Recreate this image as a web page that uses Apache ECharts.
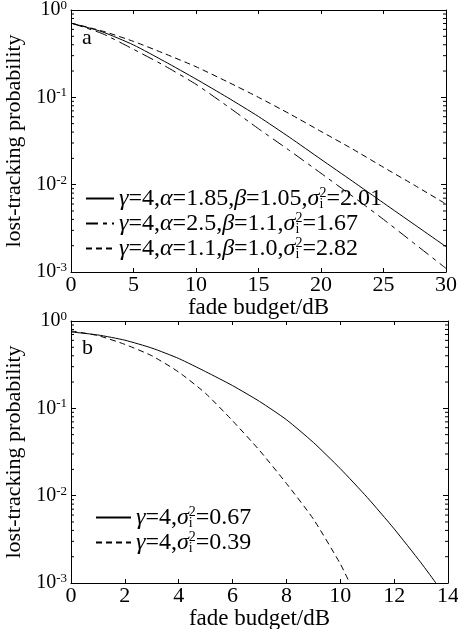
<!DOCTYPE html>
<html><head><meta charset="utf-8">
<script src="https://cdn.jsdelivr.net/npm/echarts@6/dist/echarts.min.js"></script>
<style>html,body{margin:0;padding:0;background:#fff}#c{width:458px;height:629px}</style>
</head><body><div id="c"></div>
<script>
// ---- data ----
const xTop = [0, 2.5, 5, 7.5, 10, 12.5, 15, 17.5, 20, 22.5, 25, 27.5, 30];
const pSolidA = [0.708, 0.562, 0.398, 0.257, 0.162, 0.100, 0.0603, 0.0347, 0.0195, 0.0110, 0.00617, 0.00347, 0.00195];
const pDashDotA = [0.708, 0.537, 0.355, 0.229, 0.141, 0.0794, 0.0437, 0.0245, 0.0135, 0.0074, 0.0040, 0.0021, 0.0011];
const pDashA = [0.708, 0.575, 0.437, 0.316, 0.224, 0.151, 0.100, 0.0646, 0.0407, 0.0257, 0.0158, 0.0098, 0.0060];

const xBotSolid = [0, 1, 2, 3, 4, 5, 6, 7, 8, 9, 10, 11, 12, 13, 13.55];
const pSolidB = [0.750, 0.692, 0.603, 0.490, 0.372, 0.263, 0.182, 0.120, 0.0741, 0.0407, 0.0204, 0.00955, 0.00417, 0.0017, 0.001];
const xBotDash = [0, 1, 2, 3, 4, 5, 6, 7, 8, 9, 10, 10.35];
const pDashB = [0.77, 0.68, 0.54, 0.40, 0.26, 0.148, 0.072, 0.033, 0.0138, 0.0054, 0.00166, 0.001];

const yDecades = [0.001, 0.01, 0.1, 1];
const legendA = ['γ=4,α=1.85,β=1.05,σi²=2.01', 'γ=4,α=2.5,β=1.1,σi²=1.67', 'γ=4,α=1.1,β=1.0,σi²=2.82'];
const legendB = ['γ=4,σi²=0.67', 'γ=4,σi²=0.39'];
const yName = 'lost-tracking probability';
const xName = 'fade budget/dB';

// minor tick values 2..9 x 10^n
const minorTicks = [];
for (let d = 0; d < yDecades.length - 1; d++) for (let k = 2; k <= 9; k++) minorTicks.push(+(k * yDecades[d]).toPrecision(3));

const FONT = '"Liberation Serif","DejaVu Serif",serif';
const LFS = 24;   // legend font
const pair = (xs, ys) => xs.map((x, i) => [x, ys[i]]);

function richLegend(name) {
  return name.replace(/γ/g, '{g|γ}').replace(/α/g, '{g|α}').replace(/β/g, '{g|β}')
             .replace(/σi²/g, '{g|σ}{sub|i}{sup|2}');
}
const legendRich = {
  g: { fontFamily: FONT, fontSize: LFS, fontStyle: 'italic', color: '#000', lineHeight: 25 },
  sub: { fontFamily: FONT, fontSize: 14, color: '#000', verticalAlign: 'bottom', padding: [8, 0, 0, 0], width: 0, lineHeight: 25 },
  sup: { fontFamily: FONT, fontSize: 14, color: '#000', verticalAlign: 'top', padding: [0, 0, 6, 0], lineHeight: 25 }
};
const yLabel = {
  fontFamily: FONT, fontSize: 20, color: '#000', margin: 4,
  formatter: v => '{b|10}{s|' + Math.round(Math.log10(v)) + '}',
  rich: {
    b: { fontFamily: FONT, fontSize: 20, color: '#000' },
    s: { fontFamily: FONT, fontSize: 13, color: '#000', verticalAlign: 'top', padding: [0, 0, 9, 0] }
  }
};
const axisLine = { show: true, onZero: false, lineStyle: { color: '#000', width: 1 } };

function xAx(gi, max, interval, pos, labels) {
  return {
    type: 'value', gridIndex: gi, min: 0, max: max, interval: interval, position: pos,
    axisLine: axisLine,
    axisTick: { show: true, inside: true, length: 4, lineStyle: { color: '#000' } },
    axisLabel: { show: labels, fontFamily: FONT, fontSize: 22, color: '#000', margin: 2 },
    splitLine: { show: false },
    name: labels ? xName : '', nameLocation: 'middle', nameGap: 21,
    nameTextStyle: { fontFamily: FONT, fontSize: 23, color: '#000' }
  };
}
function yAx(gi, pos, labels) {
  return {
    type: 'log', logBase: 10, gridIndex: gi, min: 0.001, max: 1, position: pos,
    axisLine: axisLine,
    axisTick: { show: true, inside: true, length: 5, lineStyle: { color: '#000' } },
    axisLabel: labels ? yLabel : { show: false },
    splitLine: { show: false },
    name: labels ? yName : '', nameLocation: 'middle', nameGap: 40, nameRotate: 90,
    nameTextStyle: { fontFamily: FONT, fontSize: 22, color: '#000' }
  };
}
function lineSeries(name, data, xi, yi, type) {
  return {
    type: 'line', name: name, data: data, xAxisIndex: xi, yAxisIndex: yi,
    symbol: 'none', smooth: 0.2, clip: true,
    lineStyle: { color: '#000', width: 1, type: type },
    itemStyle: { color: '#000' }, emphasis: { disabled: true }
  };
}
function minorSeries(xi, yi, xmax) {
  return {
    type: 'custom', xAxisIndex: xi, yAxisIndex: yi, silent: true,
    data: minorTicks.map(v => [0, v]),
    renderItem: function (params, api) {
      const v = api.value(1);
      const l = api.coord([0, v]);
      const r = api.coord([xmax, v]);
      return { type: 'group', children: [
        { type: 'line', shape: { x1: l[0], y1: l[1], x2: l[0] + 3, y2: l[1] }, style: { stroke: '#000', lineWidth: 1 } },
        { type: 'line', shape: { x1: r[0], y1: r[1], x2: r[0] - 3, y2: r[1] }, style: { stroke: '#000', lineWidth: 1 } }
      ] };
    }
  };
}
const legendCommon = {
  orient: 'vertical', itemHeight: 12, itemGap: 0, selectedMode: false, padding: 0,
  itemStyle: { opacity: 0 },
  formatter: richLegend,
  textStyle: { fontFamily: FONT, fontSize: LFS, color: '#000', lineHeight: 25, rich: legendRich }
};

const chart = echarts.init(document.getElementById('c'), null, { renderer: 'canvas' });
chart.setOption({
  animation: false,
  backgroundColor: '#fff',
  grid: [
    { left: 71, top: 10, width: 375, height: 262, containLabel: false, outerBoundsMode: 'none' },
    { left: 71, top: 321, width: 377, height: 262, containLabel: false, outerBoundsMode: 'none' }
  ],
  xAxis: [xAx(0, 30, 5, 'bottom', true), xAx(0, 30, 5, 'top', false),
          xAx(1, 14, 2, 'bottom', true), xAx(1, 14, 2, 'top', false)],
  yAxis: [yAx(0, 'left', true), yAx(0, 'right', false), yAx(1, 'left', true), yAx(1, 'right', false)],
  legend: [
    Object.assign({ data: legendA, left: 85, top: 186, itemWidth: 28 }, legendCommon),
    Object.assign({ data: legendB, left: 95, top: 505, itemWidth: 35 }, legendCommon)
  ],
  graphic: [
    { type: 'text', left: 82, top: 27, style: { text: 'a', font: '22px ' + FONT, fill: '#000' } },
    { type: 'text', left: 82, top: 337, style: { text: 'b', font: '22px ' + FONT, fill: '#000' } }
  ],
  series: [
    lineSeries(legendA[0], pair(xTop, pSolidA), 0, 0, 'solid'),
    lineSeries(legendA[1], pair(xTop, pDashDotA), 0, 0, [12, 5, 4, 5]),
    lineSeries(legendA[2], pair(xTop, pDashA), 0, 0, [6, 4]),
    lineSeries(legendB[0], pair(xBotSolid, pSolidB), 2, 2, 'solid'),
    lineSeries(legendB[1], pair(xBotDash, pDashB), 2, 2, [6, 4]),
    minorSeries(0, 0, 30),
    minorSeries(2, 2, 14)
  ]
});
</script></body></html>
